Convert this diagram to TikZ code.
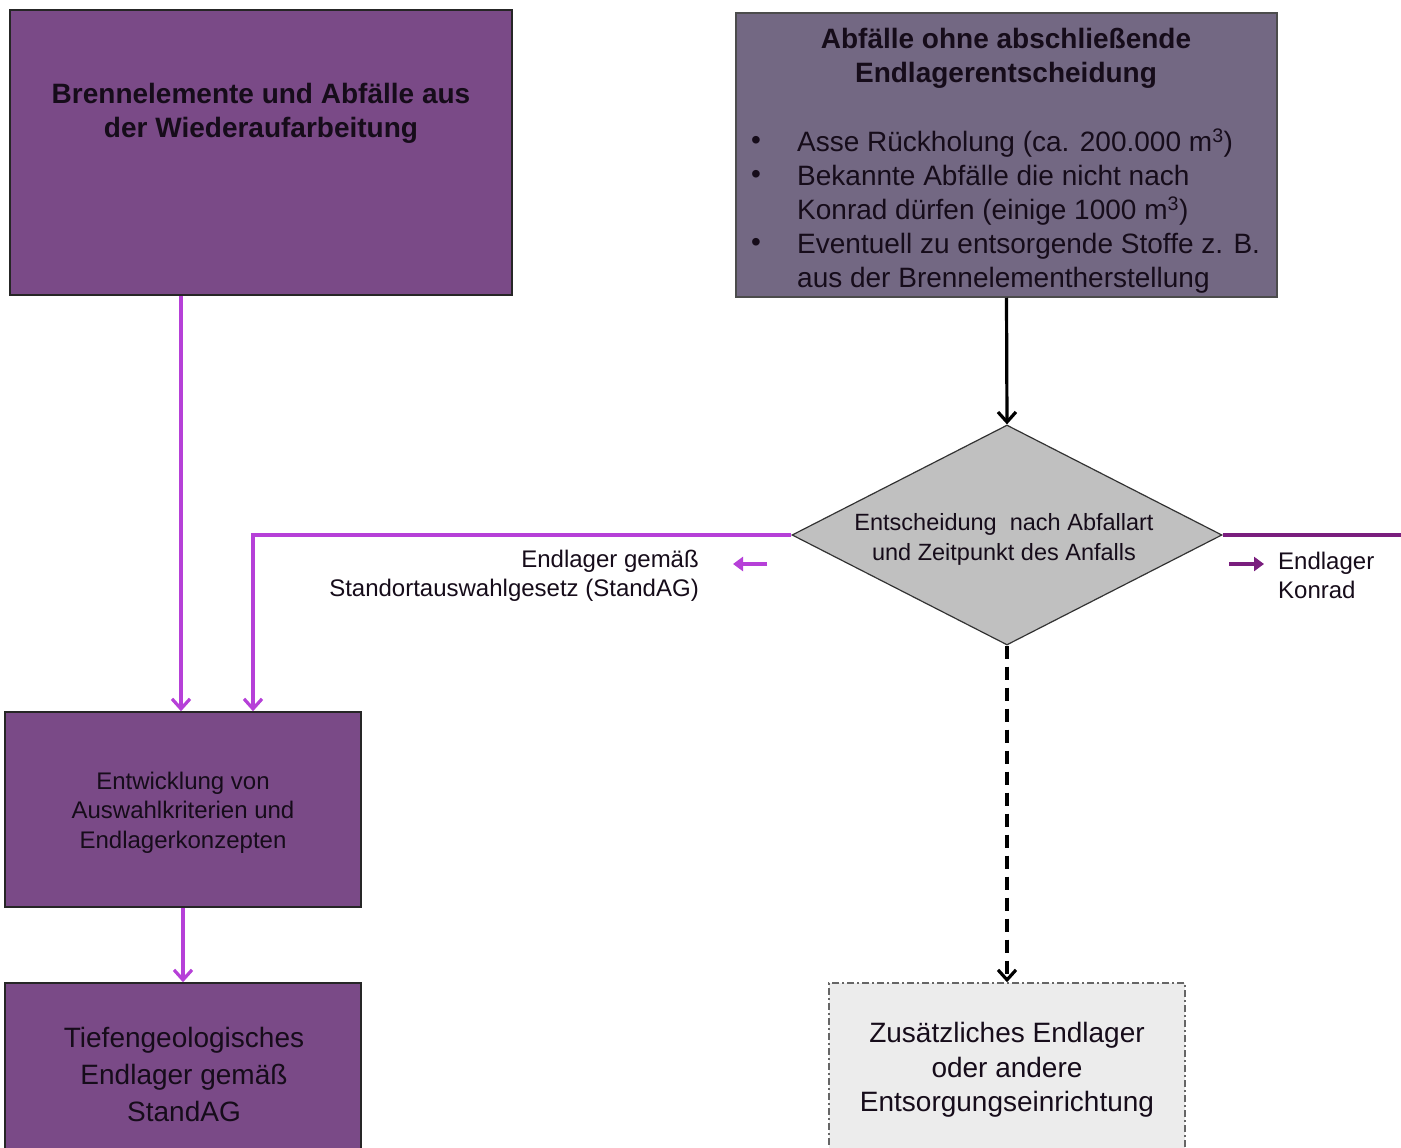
\documentclass[tikz,border=0pt]{standalone}
\usepackage{fontspec}
\setmainfont{Liberation Sans}
\usetikzlibrary{shapes.geometric,arrows.meta,calc}
\definecolor{boxpurple}{RGB}{122,74,135}
\definecolor{boxgrey}{RGB}{115,104,131}
\definecolor{lightarrow}{RGB}{182,64,216}
\definecolor{darkarrow}{RGB}{122,30,126}
\definecolor{diagrey}{RGB}{192,192,192}
\definecolor{efill}{RGB}{236,236,236}
\definecolor{txtdark}{RGB}{22,12,26}
\begin{document}
\begin{tikzpicture}[x=1pt,y=-1pt,
  pbox/.style={rectangle, draw=black!85, line width=1.5pt, fill=boxpurple, inner sep=0pt, align=center, text=txtdark},
  gbox/.style={rectangle, draw=black!70, line width=1.5pt, fill=boxgrey, inner sep=0pt},
  ebox/.style={rectangle, draw=black!60, line width=1.5pt, dash pattern=on 7pt off 3pt on 2pt off 3pt, fill=efill, inner sep=0pt},
  bigtxt/.style={font=\fontsize{28}{34.3}\selectfont},
  midtxt/.style={font=\fontsize{24}{29.5}\selectfont},
  parrow/.style={draw=lightarrow, line width=3.2pt, -{Straight Barb[length=10pt,width=18pt,line width=3.2pt]}},
  barrow/.style={draw=black, line width=3.2pt, -{Straight Barb[length=10pt,width=18pt,line width=3.2pt]}},
  darrow/.style={draw=black, line width=3.2pt, dash pattern=on 13pt off 8pt, -{Straight Barb[length=10pt,width=18pt,line width=3.2pt]}},
  legarrow/.style={line width=4.5pt, -{Triangle[length=10pt,width=14pt]}}
]
\useasboundingbox (0,0) rectangle (1401,1148);
\fill[white] (0,0) rectangle (1401,1148);
\clip (0,0) rectangle (1401,1148);

% Box A
\node[pbox, minimum width=502pt, minimum height=285pt] (boxA) at (261,152.5) {};
\node[font=\bfseries\fontsize{28}{34}\selectfont, align=center, text=txtdark] (tA) at (261,113) {Brennelemente und Abfälle aus\\der Wiederaufarbeitung};

% Box B
\node[gbox, minimum width=541pt, minimum height=284pt] (boxB) at (1006.5,155) {};
\node[font=\bfseries\fontsize{28}{34}\selectfont, align=center, text=txtdark] (tB) at (1006,58) {Abfälle ohne abschließende\\Endlagerentscheidung};
\node[bigtxt, text=txtdark] (b1) at (756,143) {•};
\node[bigtxt, text=txtdark] (b2) at (756,177) {•};
\node[bigtxt, text=txtdark] (b3) at (756,245) {•};
\node[bigtxt, anchor=west, inner sep=0pt, text=txtdark] (i1) at (797,143.5) {Asse Rückholung (ca. 200.000 m\textsuperscript{3})};
\node[bigtxt, anchor=west, inner sep=0pt, align=left, text=txtdark] (i2) at (797,195) {Bekannte Abfälle die nicht nach\\Konrad dürfen (einige 1000 m\textsuperscript{3})};
\node[bigtxt, anchor=west, inner sep=0pt, align=left, text=txtdark] (i3) at (797,263.5) {Eventuell zu entsorgende Stoffe z. B.\\aus der Brennelementherstellung};

% Decision diamond
\node[diamond, draw=black!80, line width=1.2pt, fill=diagrey, minimum width=430pt, minimum height=220pt, inner sep=0pt, aspect=1.95] (dec) at (1007,535) {};
\node[align=center, text=txtdark, font=\fontsize{23.5}{30}\selectfont] (tdec) at (1004,539) {Entscheidung\ \ nach Abfallart\\und Zeitpunkt des Anfalls};

% Labels
\node[midtxt, align=right, anchor=east, inner sep=0pt, text=txtdark] (lstand) at (699,576) {Endlager gemäß\\Standortauswahlgesetz (StandAG)};
\node[midtxt, align=left, anchor=west, inner sep=0pt, text=txtdark] (lkonrad) at (1278,575.5) {Endlager\\Konrad};

% Box C
\node[pbox, minimum width=356pt, minimum height=195pt] (boxC) at (183,809.5) {};
\node[midtxt, align=center, text=txtdark] (tC) at (183,812.5) {Entwicklung von\\Auswahlkriterien und\\Endlagerkonzepten};

% Box D
\node[pbox, minimum width=356pt, minimum height=180pt] (boxD) at (183,1073) {};
\node[font=\fontsize{28}{37}\selectfont, align=center, text=txtdark] (tD) at (184,1074) {Tiefengeologisches\\Endlager gemäß\\StandAG};

% Box E
\node[ebox, minimum width=356pt, minimum height=168pt] (boxE) at (1007,1067) {};
\node[bigtxt, align=center, text=txtdark] (tE) at (1007,1070) {Zusätzliches Endlager\\oder andere\\Entsorgungseinrichtung};

% helper coordinates
\coordinate (xa) at (181,0);
\coordinate (xb) at (253,0);
\coordinate (redge) at (1405,0);
\coordinate (lgL1) at (767,564);
\coordinate (lgL2) at (733,564);
\coordinate (lgR1) at (1229,564);
\coordinate (lgR2) at (1264,564);

% Connectors
\draw[barrow] (boxB.south) -- (dec.north);
\draw[parrow] (xa |- boxA.south) -- (xa |- boxC.north);
\draw[parrow] (dec.west) -| (xb |- boxC.north);
\draw[draw=darkarrow, line width=3.2pt] (dec.east) -- (redge |- dec.east);
\draw[parrow] (boxC.south) -- (boxD.north);
\draw[darrow] (dec.south) -- (boxE.north);

% legend arrows
\draw[legarrow, draw=lightarrow, fill=lightarrow] (lgL1) -- (lgL2);
\draw[legarrow, draw=darkarrow, fill=darkarrow] (lgR1) -- (lgR2);
\end{tikzpicture}
\end{document}
